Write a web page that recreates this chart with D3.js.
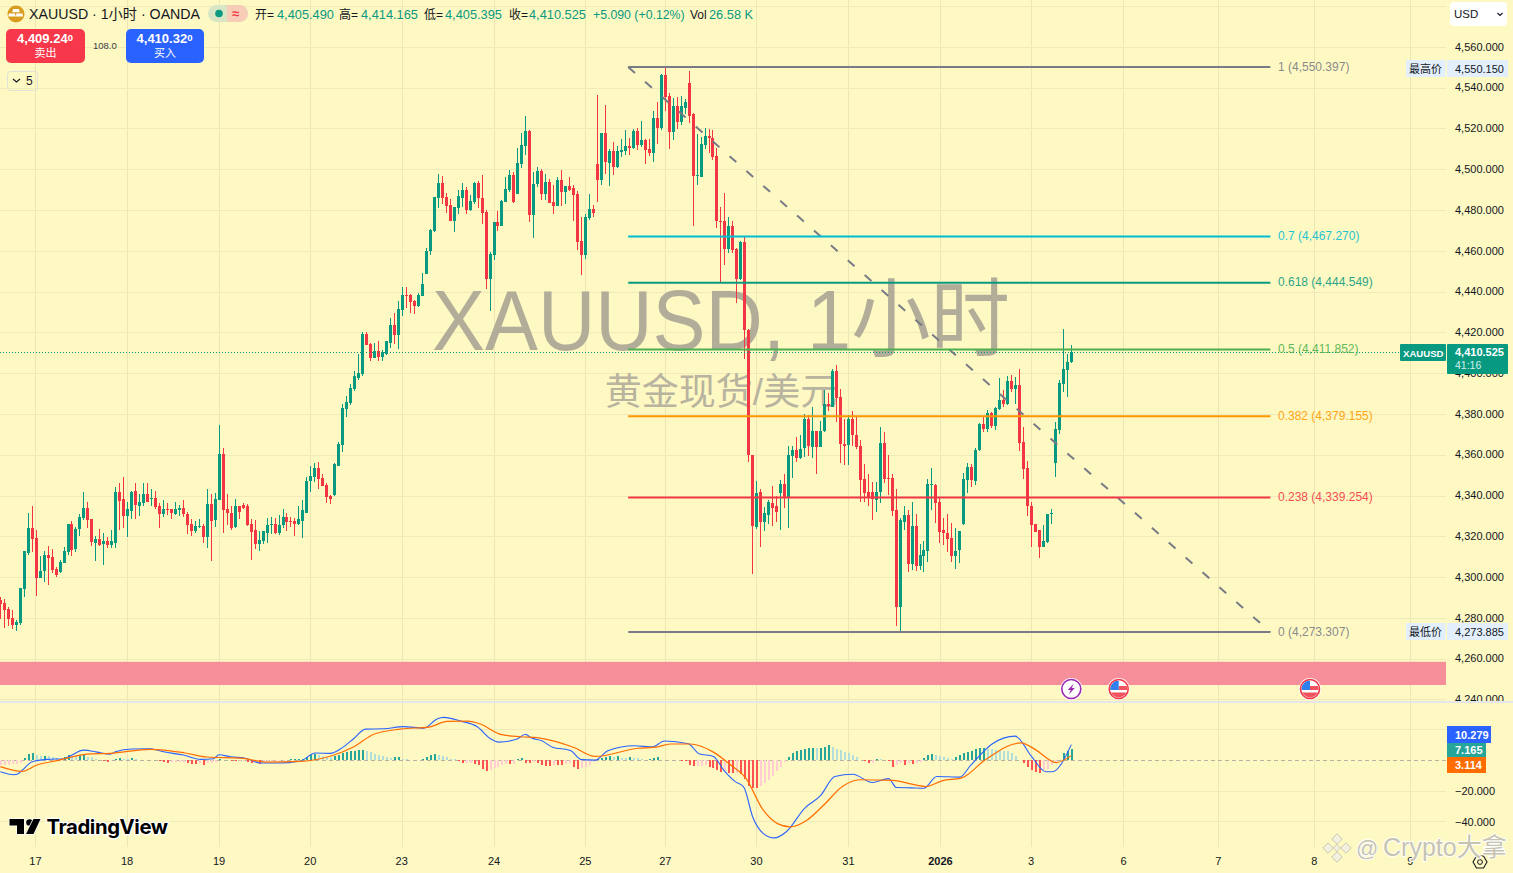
<!DOCTYPE html>
<html><head><meta charset="utf-8"><title>XAUUSD</title>
<script src="https://cdn.jsdelivr.net/npm/d3@7/dist/d3.min.js"></script>
<style>html,body{margin:0;padding:0;background:#fef8c2;overflow:hidden}svg{display:block}
text{font-family:"Liberation Sans","Noto Sans CJK SC",sans-serif}</style></head><body><svg id="c" width="1513" height="873"></svg>
<script>
const opens=[4289.2,4287.7,4284.8,4280.3,4276.9,4277.7,4294.1,4312.3,4324.5,4319.6,4300,4303.4,4311.3,4310.3,4304.4,4302.9,4307.3,4312.8,4326.5,4313.7,4323.6,4329,4333.9,4328.5,4317.2,4319.1,4316.2,4317.7,4315.7,4317.2,
4342.2,4338.3,4329.9,4332.9,4342.7,4335.3,4336.8,4341.2,4338.3,4338.8,4334.9,4330.9,4333.4,4333.4,4330.9,4332.9,4333.9,4331.4,4326.5,4323.1,4324.9,4325.5,4320.1,4336.3,4328,4337.8,4360.4,4333.4,4331.9,4324.5,
4334.9,4335.8,4334.9,4326.5,4323.1,4316.2,4317.7,4322.1,4326,4326.5,4322.1,4325.5,4329.5,4327.5,4327.5,4326,4327.5,4331.9,4347.1,4349.1,4353.5,4348.6,4345.2,4339.8,4340.3,4354.5,4364.8,4382.5,4385.4,4392.3,
4397.7,4399.7,4419.3,4414.4,4407.5,4411,4408,4409.5,4414.9,4423.7,4418.8,4431.1,4438.5,4438.5,4435.5,4433.1,4438,4448.8,4460.1,4469.9,4486.1,4493.5,4486.6,4482.7,4474.8,4481.2,4486.1,4490,4480.2,4484.2,
4493.5,4486.1,4479.2,4446.3,4458.1,4474.3,4472.4,4484.2,4490,4497.4,4488.1,4502.8,4511.7,4519,4477.8,4493,4499.4,4488.1,4494,4484.2,4482.2,4495,4489.1,4492,4491,4488.1,4465,4458.1,4476.3,4480.7,
4502.8,4495,4518,4503.3,4509.2,4501.3,4508.7,4509.2,4511.7,4510.7,4519,4512.2,4514.6,4510.2,4508.2,4525.4,4520.5,4546.5,4536.2,4518.5,4531.3,4523.4,4530.3,4542.6,4527.4,4496.9,4496.6,4512.1,4516.5,4515.6,
4506.6,4474.7,4474.7,4460.8,4472.4,4461,4446.3,4464.5,4421.4,4360,4324.8,4341.8,4327.3,4330.8,4336.8,4334.9,4341.3,4345.7,4339.3,4359.7,4362.8,4358.7,4363.2,4377.6,4364.2,4372.1,4364.2,4371.6,4384.9,4383.6,
4401.2,4388.4,4365.7,4364.7,4377.6,4370.1,4364.7,4348.4,4341.8,4341.8,4338.3,4341.7,4365.8,4348.6,4348.6,4332.9,4285.2,4327.5,4330.9,4306.8,4325.5,4305.9,4310.8,4313.2,4345.6,4345.6,4337.3,4323.1,4322.1,4319.6,
4310.8,4313.2,4326,4347.6,4354,4347.6,4362.3,4375.1,4372.7,4380.5,4374.1,4382.5,4386.9,4384.9,4396.2,4392.3,4394.3,4366.3,4353.5,4335.3,4326.5,4323.1,4315.2,4317.7,4331.4,4356,4372.2,4394.8,4401.6,4405.49];
const highs=[4290.3,4289.3,4285.7,4284.1,4279.4,4295.1,4313.2,4331.9,4334.9,4323.1,4310.8,4313.2,4315.7,4314.2,4305.4,4308.8,4315.2,4326.5,4327.5,4325,4331.4,4342.2,4337.3,4328.5,4320.6,4323.6,4322.1,4320.1,4323.1,4344.2,
4346.2,4349.1,4337.3,4342.7,4346.6,4341.2,4346.2,4346.2,4343.2,4342.7,4336.8,4337.8,4336.8,4333.4,4337.3,4335.8,4337.8,4332.4,4328.5,4327.5,4328.5,4326.5,4343.2,4341.2,4341.7,4374.6,4363.3,4341.2,4334.9,4338.3,
4334.9,4336.8,4336.3,4328.5,4328,4322.6,4322.6,4329,4329.5,4329,4330.9,4333.4,4331.9,4329.5,4329,4335.3,4337.8,4349.1,4354.5,4356,4356.5,4350.6,4346.6,4340.3,4356,4366.3,4385,4388.9,4394.8,4401.2,
4409.5,4420.3,4420.3,4414.9,4414.9,4415.9,4411.5,4415.9,4427.2,4429.6,4435.5,4442.4,4442.4,4439,4436,4439.5,4449.3,4461.6,4470.9,4486.6,4497.9,4496.9,4488.6,4485.6,4481.7,4490,4493.5,4491.5,4487.6,4494,
4494.5,4497.4,4480.2,4459.6,4474.3,4479.7,4485.1,4496.4,4499.9,4498.9,4510.7,4518,4526.4,4519.5,4498.9,4501.3,4500.4,4497.9,4495.5,4492.5,4496.4,4499.9,4492,4496.4,4492.5,4489.6,4476.8,4478.3,4488.1,4482.7,
4536.7,4518,4531.8,4510.2,4513.6,4511.7,4515.1,4519.5,4515.6,4520,4520.5,4523.9,4515.1,4515.1,4528.9,4533.3,4547,4550.15,4537.7,4535.2,4535.7,4536.2,4534.7,4548.5,4527.9,4517.6,4516.1,4520.5,4520,4519.5,
4510.6,4481.7,4488.7,4476.7,4474.8,4461.5,4465,4467.3,4422,4360.3,4347.2,4343.2,4334.8,4337.8,4344.7,4339.8,4347.7,4350.7,4364.7,4364.7,4369.1,4370.1,4380.1,4379.6,4383.6,4372.1,4376.6,4392,4390.6,4402.5,
4404.2,4392.5,4377.6,4379.9,4381.9,4378.6,4367.6,4355.7,4350.7,4346.7,4346.7,4373.6,4371.2,4359.9,4350.6,4343.2,4329.4,4335.3,4332.9,4337.3,4331.4,4316.7,4318.1,4348.1,4353.5,4346.1,4339.3,4329.4,4331.4,4327,
4324.5,4322.6,4351.5,4356,4355.5,4363.3,4375.6,4378.6,4382,4381,4383.5,4397.7,4391.8,4398.7,4399.2,4398.2,4402.1,4373.6,4357.4,4337.3,4326.5,4323.5,4326,4331.4,4333.4,4376.1,4396.7,4421.8,4409.5,4414.165];
const lows=[4279.5,4275.1,4276.4,4274.6,4274,4276.9,4290.7,4311.3,4312.4,4291.1,4300,4298,4296.5,4302.4,4300.5,4302.4,4307.3,4311.3,4310.8,4312.3,4320.6,4328,4324.5,4315.7,4308.3,4315.7,4306.4,4314.7,4314.7,4314.7,
4323.1,4324.1,4320.1,4328.5,4328.5,4330.4,4335.3,4337.3,4335.3,4333.4,4324.1,4329.9,4330.9,4328.5,4330.9,4330.4,4329.9,4321.6,4320.6,4322.1,4324.5,4317.2,4314.7,4308.3,4325,4337.8,4322.1,4326,4323.1,4324.5,
4328.5,4333.4,4325.5,4308.8,4314.2,4312.8,4316.7,4317.2,4321.6,4321.6,4321.1,4324.1,4322.6,4325,4320.6,4326,4319.6,4331.9,4342.2,4347.1,4343.2,4344.7,4336.8,4336.3,4339.8,4354.5,4361.4,4378.6,4384.5,4391.3,
4396.7,4398.7,4413.9,4406.1,4407.5,4406.1,4406.1,4409,4412.4,4414.4,4412,4428.2,4432.1,4429.6,4429.1,4432.6,4438,4448.8,4458.1,4469.4,4481.2,4483.2,4478.8,4474.8,4469.4,4478.3,4481.7,4478.3,4479.7,4483.2,
4481.2,4473.3,4441.4,4430.6,4455.7,4469.9,4472.4,4484.2,4489.1,4483.7,4488.1,4500.9,4507.2,4474.3,4466.5,4491.5,4485.1,4485.1,4483.7,4478.3,4482.2,4482.2,4483.2,4489.6,4474.8,4460.6,4448.3,4456.2,4475.3,4476.8,
4484.2,4492.5,4497.9,4492,4497.4,4500.9,4506.3,4507.2,4507.2,4510.2,4509.7,4511.2,4502.8,4506.7,4503.8,4512.6,4519.5,4528.9,4510.2,4514.6,4520,4522,4527.4,4523,4472.4,4492.5,4496.6,4510.1,4508.1,4504.6,
4471.2,4444.8,4453.3,4459.3,4459.1,4434.6,4445.8,4407,4356.9,4301.9,4323.8,4314.9,4322.9,4326.3,4325.3,4327.3,4323.3,4334.3,4324.5,4348.7,4356.7,4358.2,4359.2,4359.7,4358.7,4350.7,4364.2,4371.6,4381.6,4383.6,
4376.1,4356,4355.2,4355.2,4364.7,4363.2,4337.3,4337.3,4335.3,4328,4332.3,4336.8,4346.6,4340.7,4330.4,4276.4,4273.885,4323.5,4302.9,4303.9,4303.4,4303.9,4302.9,4307.8,4332.9,4327,4317.2,4316.2,4312.7,4307.8,
4304.4,4307.3,4326,4341.7,4344.2,4345.2,4361.9,4371.2,4371.2,4373.2,4372.2,4382,4383.5,4384.5,4390.8,4384.9,4361.9,4348.1,4330.4,4315.2,4322.6,4309.8,4315.2,4317.2,4326.5,4349.1,4370.2,4390.8,4388.4,4405.395];
const closes=[4287.4,4284.3,4279.8,4276.9,4278.4,4294.7,4312.8,4324.5,4319.1,4300,4303.4,4311.3,4309.8,4303.9,4301.5,4307.8,4313.2,4326.5,4313.7,4323.6,4329.5,4333.9,4328,4317.2,4319.1,4316.2,4317.7,4315.7,4317.7,4342.2,
4337.8,4329.9,4333.4,4342.2,4335.8,4337.3,4341.2,4337.3,4338.8,4334.4,4330.9,4333.4,4332.9,4331.4,4333.4,4333.9,4330.9,4326,4323.1,4325.5,4325.5,4320.1,4336.3,4328,4338.3,4360.4,4332.9,4331.4,4324.5,4334.9,
4331.9,4334.4,4325.5,4322.6,4316.2,4318.2,4322.6,4326,4326.5,4322.1,4326,4329.5,4327,4327,4326,4328.5,4332.9,4347.6,4349.6,4353.5,4348.1,4344.7,4339.3,4338.3,4355.5,4365.3,4383,4385.9,4392.8,4398.7,
4400.2,4419.3,4413.9,4407.5,4411,4408,4410.5,4415.9,4423.7,4418.8,4431.6,4438.5,4438,4435,4433.1,4438.5,4443.9,4460.1,4470.4,4486.6,4493.5,4486.1,4482.2,4474.8,4481.7,4487.1,4490,4480.2,4484.6,4493.5,
4486.1,4478.8,4446.3,4458.6,4474.3,4472.4,4484.6,4490.5,4497.4,4484.2,4503.3,4512.2,4519,4477.8,4493,4499.4,4488.1,4494,4483.7,4482.2,4495,4489.1,4492,4490,4487.6,4464.5,4458.1,4476.8,4480.7,4478.8,
4495,4518,4503.8,4509.2,4501.3,4509.2,4509.7,4511.7,4510.7,4519,4512.2,4514.6,4509.7,4508.2,4525.4,4520.5,4546.5,4535.7,4518.5,4531.3,4523.4,4531.3,4533.3,4526.4,4496.9,4497.4,4512.6,4516.5,4515.6,4506.1,
4474.7,4474.2,4460.8,4472.2,4460.6,4446.3,4464.5,4421.4,4360,4325.2,4341.3,4327.3,4331.5,4337.3,4334.3,4331.8,4345.7,4339.3,4360.2,4362.8,4358.7,4363.2,4377.6,4364.2,4372.1,4364.2,4372.1,4384.9,4383.9,4401.2,
4387.9,4365.3,4364.7,4377.6,4369.6,4364.2,4348.1,4341.3,4338.8,4338.3,4342.2,4365.8,4348.1,4348.1,4332.4,4285.2,4328,4330.9,4306.8,4325.5,4305.9,4311.3,4313.7,4346.1,4346.1,4336.8,4322.6,4321.6,4319.1,4310.8,
4313.2,4322.6,4348.1,4354,4347.6,4362.8,4375.1,4372.7,4380.5,4374.1,4383,4386.9,4384.9,4396.2,4392.3,4394.3,4365.8,4353,4334.8,4326,4322.6,4314.7,4318.1,4331.4,4331.9,4372.7,4395.3,4402.1,4405.6,4410.525];
const histogram=[-3.3,-3.3,-3,-2.6,-2.2,-1.5,1.5,4,4.5,3.5,3,3.1,2.8,2.4,1.5,1,2,3.5,3,2.8,3.3,3.6,2.5,2,.8,.3,-.5,-.8,.2,1,1.6,.8,.6,1.5,1,.5,.4,.2,.2,.1,-.6,-1.2,-1.4,-1.2,-1.2,-1,-.8,-1.8,-2.2,-2.5,-1.8,-3,-1.8,-1.5,-.8,1,.5,.3,-.6,-.7,-.4,-.1,-1.2,-1.6,-1.4,-2.6,-.8,-.4,-.3,-.2,-.2,-.1,.5,.8,.85,.9,1.2,2.2,3.2,4,3.4,2.6,2,1.9,2.8,3.5,4.8,5.4,6,6.3,6.6,7,6,5.2,4,3.2,2.6,2.2,1.8,1.9,2,1.2,.6,.4,.2,.1,1,2,3.4,4.3,3.8,3,2,1.2,.6,-.3,-2,-1.9,-1.8,-2.6,-3,-5.4,-7,-6,-5,-4,-3,-2.4,-2.6,-2.2,
.6,1.5,-1.6,-1.8,-1,-2,-3,-3.6,-3.8,-2.8,-3,-3.1,-2.6,-1.8,-4,-5.4,-5,-4.2,-3,-1.2,1,1.4,2.4,2.6,2.4,2.6,1.8,1.6,2.4,1.6,1.3,.6,.3,1,1.8,2.4,.4,.4,.3,.1,.05,-.2,-.6,-2.8,-3.8,-3.6,-3.4,-3,-4,-5,-6,-7.5,-7,-8,-8.1,-8,-9,-12,-17,-18,-18.1,-17,-15,-12.5,-10,-7,-4.5,-1,2.5,4.5,5.8,6.5,7.3,8,8.2,8,8.2,9,10,9,7.5,6.5,5.5,4.8,3.5,2.2,.3,-.5,-1.6,-1.4,.8,.7,.5,-.3,-4.2,-3,-2,-3,-2,-2.4,-1.6,-1,1.3,3.3,4.2,3.6,2.8,2.2,1.8,.8,2.2,3.5,4.6,5.6,6.2,7.6,8,8.1,7.6,7.3,6.9,6.5,6.2,6,4.8,3,.4,-1.6,-4,-6,-7.5,-8.4,-6,-5.4,-3,-1.5,.5,5,6,7.165];
const macdBars=[0,3.4,4.6,5.4,8,11.7,15.9,17.6,20.9,24.3,27.6,28.9,33.1,37.7,41,46,50.3,53.6,54.9,57.8,62,65.3,70.4,75.4,79.1,82.9,85.4,88.8,91.7,96.3,101.3,106.4,109.7,111.4,115.6,119.8,123.1,125.2,129.8,131.9,133.3,136,138.7,143.2,145.9,149.4,152.6,159.3,163.8,166.8,172.8,175.5,179.1,181.8,184.5,186.7,189,191.6,194.3,197.5,202,206,209.6,214.1,219,223.1,225.1,228.9,232,235.2,241,243.7,249.1,254.9,259,262.6,264.2,269];
const macdVals=[-7.4,-9.3,-8.5,-6.7,-.9,.65,1.1,3,6.7,5.4,4.1,5.6,7.4,7.6,5.6,3.5,.65,1.1,3.7,2.4,1.1,-1.7,-1.7,-.4,4.8,4.6,7.4,14.3,20.4,20.6,22,21,27,28,25.6,21.9,14.1,11.9,13.9,17,14.7,12.8,8.6,6.5,.5,.2,6.3,9.5,8.8,12.6,10.9,4.4,2.6,-6.7,-13.7,-17.2,-37,-47.5,-50.5,-46.3,-31.2,-23,-10.5,-9,-14.4,-11.9,-17.7,-17.9,-18.1,-10.5,-10.9,-3.3,10.7,15.8,2.6,-7.4,-7.4,10.279];
const signalBars=[0,5.4,9.2,14.2,21.8,27.6,37.7,46.1,51.9,60.3,67,75.4,83.8,88.8,93.8,100.5,108,112.2,117.3,120.6,125.6,130.6,135.1,144.1,149.4,160.2,164.7,168.3,173.2,179.1,183.6,187.2,191.6,195.2,198.4,202.4,206.9,211.4,215.9,224,232.5,236.5,241.5,247.3,256.3,259.9,265.2,269];
const signalVals=[-4.1,-7.2,-3,-.2,4.1,4.6,7.2,5,2.2,1.5,-1.1,-.65,3.5,8.9,17,20.4,21.9,25.4,25.6,23.7,17,15.4,14.7,8.4,2.6,7.9,8.6,10.7,10.7,5.4,-3.3,-11.4,-32.3,-41.2,-43.3,-39.3,-28.9,-17.2,-12.6,-13,-17,-13.3,-11.4,.2,11.4,7.2,-1.4,3.114];
const priceTicks=[4560,4540,4520,4500,4480,4460,4440,4420,4400,4380,4360,4340,4320,4300,4280,4260,4240];
const gridPrices=[4580].concat(priceTicks);
const macdTicks=[-20,-40];
const macdGrid=[20,-20,-40];
const timeBars=[8.9,31.9,55,77.9,100.9,124.1,147,167.1,190,213.1,236.2,259,282.2,306,330.1,354.2];
const timeLabels=["17","18","19","20","23","24","25","27","30","31","2026","3","6","7","8","9"];
const fibLevels=["1","0.7","0.618","0.5","0.382","0.238","0"];
const fibPrices=[4550.397,4467.27,4444.549,4411.852,4379.155,4339.254,4273.307];
const fibColors=["#787b86","#00bcd4","#089981","#4caf50","#ff9800","#f23645","#787b86"];
const fibStartBar=157.7, fibEndBar=319;
const eventBars=[269,281,329];
const zoneTop=4258.7, zoneBottom=4247.3;

const RED="#f23645",GREEN="#089981",BG="#fef8c2",GRIDV="#ece6b6",GRIDH="#f0eabb",INK="#131722";
const svg=d3.select("#c");
svg.append("rect").attr("width",1513).attr("height",873).attr("fill",BG);
const x=d3.scaleLinear().domain([0,269]).range([.33,1071.3]);
const y=d3.scaleLinear().domain([4550.397,4273.307]).range([67,632]);
const ym=d3.scaleLinear().domain([0,-40]).range([760.4,821.8]);
const crisp=v=>Math.floor(v)+.5;
const fmt=d3.format(",.3f");

// gridlines
const g=svg.append("g").attr("stroke-width",1);
g.selectAll(".v").data(timeBars).join("line").attr("stroke",GRIDV).attr("x1",d=>crisp(x(d))).attr("x2",d=>crisp(x(d))).attr("y1",0).attr("y2",847);
const g2=svg.append("g").attr("stroke-width",1).attr("stroke",GRIDH);
g2.selectAll(".h").data(gridPrices).join("line").attr("x1",0).attr("x2",1446).attr("y1",d=>crisp(y(d))).attr("y2",d=>crisp(y(d)));
const g3=svg.append("g").attr("stroke-width",1).attr("stroke",GRIDH);
g3.selectAll(".m").data(macdGrid).join("line").attr("x1",0).attr("x2",1446).attr("y1",d=>crisp(ym(d))).attr("y2",d=>crisp(ym(d)));

// watermark
svg.append("text").attr("x",432).attr("y",350).attr("textLength",578).attr("lengthAdjust","spacingAndGlyphs").attr("font-size",86).attr("fill","#b1ad99").text("XAUUSD, 1小时");
svg.append("text").attr("x",721).attr("y",405).attr("text-anchor","middle").attr("font-size",37).attr("fill","#b8b49f").text("黄金现货/美元");

// zone
svg.append("rect").attr("x",0).attr("width",1446).attr("y",y(zoneTop)).attr("height",y(zoneBottom)-y(zoneTop)).attr("fill","#f78f9a");

// candles
const idx=d3.range(opens.length);
const col=i=>closes[i]>=opens[i]?GREEN:RED;
const cg=svg.append("g").attr("shape-rendering","crispEdges");
cg.selectAll(".w").data(idx).join("rect").attr("x",i=>Math.floor(x(i))).attr("width",1)
 .attr("y",i=>y(highs[i])).attr("height",i=>Math.max(1,y(lows[i])-y(highs[i]))).attr("fill",col);
cg.selectAll(".b").data(idx).join("rect").attr("x",i=>Math.floor(x(i))-1).attr("width",3)
 .attr("y",i=>Math.round(y(Math.max(opens[i],closes[i])))).attr("height",i=>Math.max(1,Math.round(Math.abs(y(opens[i])-y(closes[i]))))).attr("fill",col);

// last price line
svg.append("line").attr("x1",0).attr("x2",1400).attr("y1",crisp(y(closes[269]))).attr("y2",crisp(y(closes[269])))
 .attr("stroke",GREEN).attr("stroke-width",1).attr("stroke-dasharray","1 2");

// fib
const fg=svg.append("g");
fg.append("line").attr("x1",x(fibStartBar)).attr("y1",y(fibPrices[0])).attr("x2",x(fibEndBar)).attr("y2",y(fibPrices[6]))
 .attr("stroke","#787b86").attr("stroke-width",2).attr("stroke-dasharray","9 13.5");
fibPrices.forEach((p,i)=>{
 fg.append("line").attr("x1",x(fibStartBar)).attr("x2",x(fibEndBar)).attr("y1",y(p)).attr("y2",y(p)).attr("stroke",fibColors[i]).attr("stroke-width",2);
 fg.append("text").attr("x",1278).attr("y",y(p)+3.5).attr("font-size",12).attr("fill",fibColors[i]).attr("fill-opacity",.9).text(`${fibLevels[i]} (${fmt(p)})`);
});

// price axis
const ax=svg.append("g").attr("transform","translate(1447,0)")
 .call(d3.axisRight(y).tickValues(priceTicks).tickSize(0).tickPadding(8).tickFormat(fmt));
ax.select(".domain").remove();
ax.selectAll("text").attr("font-size",11).attr("fill",INK).attr("dy","0.25em").style("font-family",'"Liberation Sans"');

// lower pane cover + separator
svg.append("rect").attr("x",1447).attr("y",702).attr("width",66).attr("height",171).attr("fill",BG);
svg.append("rect").attr("x",0).attr("y",701).attr("width",1513).attr("height",2).attr("fill","#e4e6ec");

// macd pane
svg.append("line").attr("x1",0).attr("x2",1446).attr("y1",crisp(ym(0))).attr("y2",crisp(ym(0))).attr("stroke","#787b86").attr("stroke-opacity",.55).attr("stroke-dasharray","4 3");
const histColor=i=>{const h=histogram[i],p=i?histogram[i-1]:h;return h>=0?(h>p?"#26a69a":"#b2dfdb"):(h<p?"#ff5252":"#ffcdd2");};
svg.append("g").attr("shape-rendering","crispEdges").selectAll("rect").data(d3.range(histogram.length)).join("rect")
 .attr("x",i=>Math.floor(x(i))).attr("width",2)
 .attr("y",i=>Math.min(ym(0),ym(histogram[i]))).attr("height",i=>Math.abs(ym(histogram[i])-ym(0))).attr("fill",histColor);
const ln=d3.line().x(d=>x(d[0])).y(d=>ym(d[1])).curve(d3.curveMonotoneX);
svg.append("path").attr("d",ln(d3.zip(macdBars,macdVals))).attr("fill","none").attr("stroke","#2962ff").attr("stroke-width",1.1);
svg.append("path").attr("d",ln(d3.zip(signalBars,signalVals))).attr("fill","none").attr("stroke","#ff6d00").attr("stroke-width",1.2);
const amx=svg.append("g").attr("transform","translate(1447,0)").call(d3.axisRight(ym).tickValues(macdTicks).tickSize(0).tickPadding(8).tickFormat(fmt));
amx.select(".domain").remove();
amx.selectAll("text").attr("font-size",11).attr("fill",INK).attr("dy","0.32em");

// time axis
const tl=new Map(timeBars.map((b,i)=>[b,timeLabels[i]]));
const at=svg.append("g").attr("transform","translate(-0.8,847)").call(d3.axisBottom(x).tickValues(timeBars).tickSize(0).tickPadding(10).tickFormat(d=>tl.get(d)));
at.select(".domain").remove();
at.selectAll("text").attr("font-size",11).attr("fill",INK).attr("font-weight",d=>tl.get(d)==="2026"?"bold":"normal");

// macd badges
[[10.279,"#2962ff",726,17,44],[7.165,"#26a69a",743,14,39],[3.114,"#ff6d00",757,16,39]].forEach(b=>{
 svg.append("rect").attr("x",1447).attr("y",b[2]).attr("width",b[4]).attr("height",b[3]).attr("fill",b[1]);
 svg.append("text").attr("x",1455).attr("y",b[2]+b[3]/2+4).attr("font-size",11).attr("font-weight","bold").attr("fill","#fff").text(fmt(b[0]));
});

// price labels
function tag(x0,y0,w,h,fill,rx){return svg.append("rect").attr("x",x0).attr("y",y0).attr("width",w).attr("height",h).attr("fill",fill).attr("rx",rx||0);}
function txt(x0,y0,s,size,fill,w,a){return svg.append("text").attr("x",x0).attr("y",y0).attr("font-size",size).attr("fill",fill).attr("font-weight",w||"normal").attr("text-anchor",a||"start").text(s);}
[["最高价",d3.max(highs),60],["最低价",d3.min(lows),623]].forEach(d=>{
 tag(1406,d[2],39.5,17,"#e3effd"); tag(1447,d[2],61,17,"#e3effd");
 txt(1409,d[2]+12.5,d[0],11,INK); txt(1455,d[2]+12.5,fmt(d[1]),11,INK);
});
tag(1400,344,46,17,GREEN,1); txt(1403,356.5,"XAUUSD",9.6,"#fff","bold");
tag(1447,344,61,30,GREEN,1); txt(1455,356,fmt(closes[269]),11,"#fff","bold"); txt(1455,369,"41:16",10.5,"#d5f0ea");

// USD box
tag(1450,2,57,24,"#fff",4); txt(1454,18,"USD",11.5,INK);
svg.append("path").attr("d","M1497.5 13l2.5 2.5 2.5-2.5").attr("fill","none").attr("stroke",INK).attr("stroke-width",1.2);

// header
svg.append("circle").attr("cx",16).attr("cy",14).attr("r",8.5).attr("fill","#d89c1f");
svg.append("path").attr("d","M13.2 9h5.6l1 3.2H12.2zM8.9 13.4h6l.8 3H8.3zM16.4 13.4h6l.6 3h-7.4z").attr("fill","#fff");
txt(29,19,"XAUUSD · 1小时 · OANDA",14.2,INK);
svg.append("rect").attr("x",208).attr("y",5).attr("width",40).attr("height",17).attr("rx",8.5).attr("fill","#d8e6c6");
svg.append("path").attr("d","M227 5h12.5a8.5 8.5 0 0 1 0 17H227z").attr("fill","#f8cdb8");
svg.append("circle").attr("cx",219).attr("cy",13.5).attr("r",3.8).attr("fill",GREEN);
txt(232,18,"≈",13,RED,"bold");
[["开=",255],["高=",339],["低=",424],["收=",509]].forEach(d=>txt(d[1],19,d[0],12,INK));
[["4,405.490",277],["4,414.165",361],["4,405.395",445],["4,410.525",529],["26.58 K",709]].forEach(d=>txt(d[1],19,d[0],12.8,GREEN));
txt(593,19,"+5.090 (+0.12%)",12.3,GREEN);
txt(690,19,"Vol",12,INK);

// buy/sell
tag(6,29,79,34,"#f7374a",5); tag(126,29,78,34,"#2962ff",5);
[["4,409.24","卖出",45.5],["4,410.32","买入",165]].forEach(d=>{
 const t=txt(d[2]-.5,43,d[0],13,"#fff","bold","middle");
 t.append("tspan").attr("font-size",9.5).attr("dy",-2).text("0");
 txt(d[2],57,d[1],11,"#fff","normal","middle");
});
txt(93,49,"108.0",9.5,"#3a3d45");
svg.append("rect").attr("x",7.5).attr("y",71.5).attr("width",30).attr("height",19).attr("rx",3).attr("fill","none").attr("stroke","#e0e0dc");
svg.append("path").attr("d","M13 79l3.5 3 3.5-3").attr("fill","none").attr("stroke",INK).attr("stroke-width",1.2);
txt(26,85,"5",12,INK);

// events
const defs=svg.append("defs");
eventBars.forEach((b,i)=>{
 const cx=i===0?x(b):(i===1?1118.7:1310), cy=689;
 svg.append("circle").attr("cx",cx).attr("cy",cy).attr("r",11).attr("fill","#fff");
 if(i===0){
  svg.append("circle").attr("cx",cx).attr("cy",cy).attr("r",9.5).attr("fill","#fff").attr("stroke","#9c27b0").attr("stroke-width",1.6);
  svg.append("path").attr("d",`M${cx+2.5} ${cy-5.5}L${cx-3.5} ${cy+1}H${cx-.5}L${cx-2.5} ${cy+5.5}L${cx+3.5} ${cy-1}H${cx+.5}z`).attr("fill","#9c27b0");
 } else {
  const id="cl"+i;
  defs.append("clipPath").attr("id",id).append("circle").attr("cx",cx).attr("cy",cy).attr("r",8.5);
  const f=svg.append("g").attr("clip-path",`url(#${id})`);
  f.append("rect").attr("x",cx-10).attr("y",cy-10).attr("width",20).attr("height",20).attr("fill","#fff");
  f.append("rect").attr("x",cx).attr("y",cy-3).attr("width",10).attr("height",4).attr("fill","#f0525e");
  f.append("rect").attr("x",cx-10).attr("y",cy+3.5).attr("width",20).attr("height",7).attr("fill","#f0525e");
  f.append("rect").attr("x",cx-10).attr("y",cy-10).attr("width",10).attr("height",11).attr("fill","#2f80ed");
  svg.append("circle").attr("cx",cx).attr("cy",cy).attr("r",9.5).attr("fill","none").attr("stroke",RED).attr("stroke-width",1.6);
 }
});

// TradingView logo
const lg=svg.append("g").attr("fill","#000").attr("stroke","#fff").attr("stroke-width",1.5).style("paint-order","stroke");
lg.append("path").attr("d","M9.5 819H24V834H17V825.5H9.5z");
lg.append("circle").attr("cx",29.5).attr("cy",822.5).attr("r",3.3);
lg.append("path").attr("d","M33.5 819H40.5L33.5 834H26z");
lg.append("text").attr("x",46.5).attr("y",834).attr("font-size",20.3).attr("font-weight","bold").style("font-family",'Inter,"Liberation Sans"').attr("letter-spacing",-.4).attr("stroke-width",2.5).text("TradingView");

// gear
svg.append("path").attr("d","M1473 862l3.5-6h7l3.5 6-3.5 6h-7z").attr("fill","none").attr("stroke",INK).attr("stroke-width",1.1);
svg.append("circle").attr("cx",1480).attr("cy",862).attr("r",2.4).attr("fill","none").attr("stroke",INK);

// publisher mark
const bm=svg.append("g").attr("fill","#f3f0e0").attr("stroke","#b8b5a3").attr("stroke-width",.7);
[[0,-9],[-9,0],[9,0],[0,9],[0,0]].forEach(o=>{
 const s=o[0]===0&&o[1]===0?3.6:5.2,a=1337+o[0],b=848+o[1];
 bm.append("path").attr("d",`M${a} ${b-s}L${a+s} ${b}L${a} ${b+s}L${a-s} ${b}z`);
});
const pub=svg.append("g").attr("fill","#c6c3b1").attr("stroke","#fff").attr("stroke-width",1.8).style("paint-order","stroke");
pub.append("text").attr("x",1356).attr("y",856).attr("font-size",22).text("@");
pub.append("text").attr("x",1383).attr("y",856).attr("font-size",25).text("Crypto大拿");
</script></body></html>
